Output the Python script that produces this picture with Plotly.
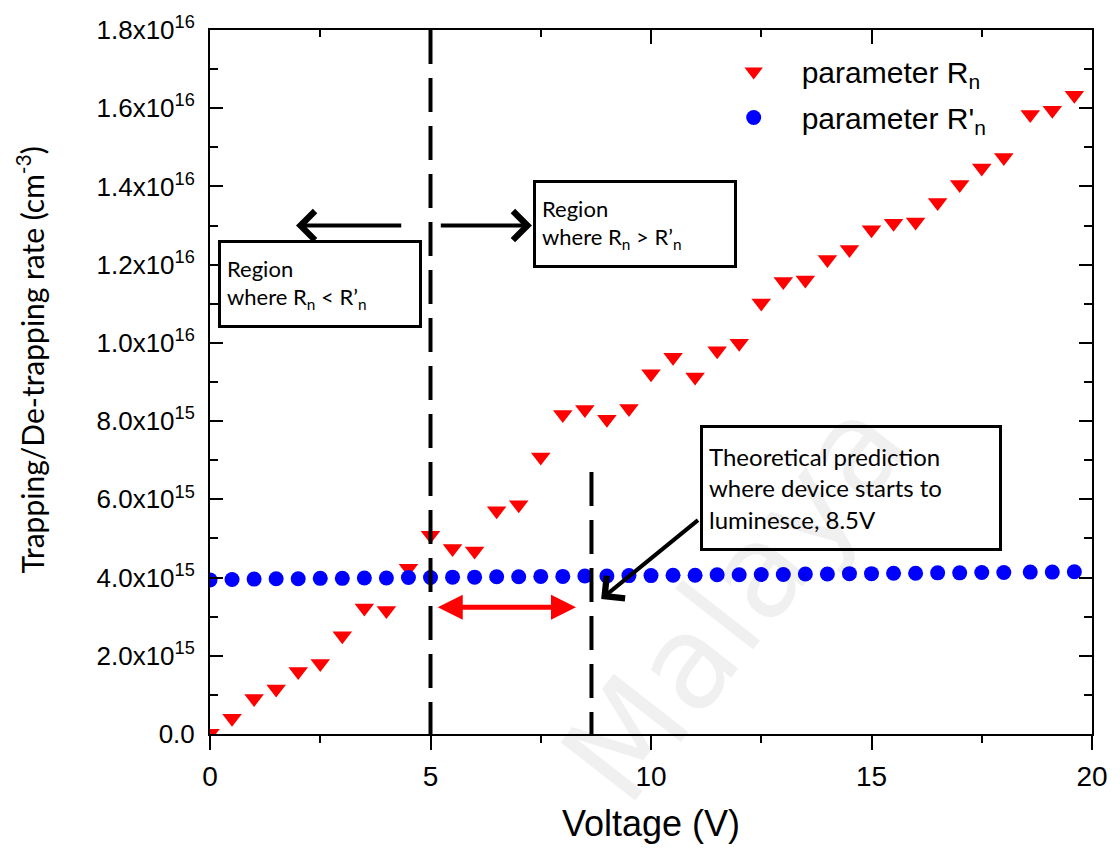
import plotly.graph_objects as go

# ---------------- data ----------------
voltage = [0, 0.5, 1, 1.5, 2, 2.5, 3, 3.5, 4, 4.5, 5, 5.5, 6, 6.5, 7, 7.5, 8, 8.5, 9, 9.5,
           10, 10.5, 11, 11.5, 12, 12.5, 13, 13.5, 14, 14.5, 15, 15.5, 16, 16.5, 17, 17.5,
           18, 18.6, 19.1, 19.6]
rn = [0.02, 0.40, 0.91, 1.15, 1.60, 1.80, 2.51, 3.22, 3.16, 4.24, 5.08, 4.74, 4.68, 5.71,
      5.86, 7.08, 8.17, 8.30, 8.05, 8.32, 9.21, 9.63, 9.13, 9.80, 9.99, 11.02, 11.57, 11.61,
      12.13, 12.39, 12.89, 13.06, 13.09, 13.59, 14.05, 14.47, 14.74, 15.84, 15.95, 16.33]
rn_prime = [3.94, 3.95, 3.96, 3.97, 3.97, 3.98, 3.98, 3.99, 3.99, 4.00, 4.00, 4.01, 4.01,
            4.02, 4.02, 4.03, 4.03, 4.04, 4.04, 4.05, 4.05, 4.06, 4.06, 4.07, 4.07, 4.08,
            4.08, 4.09, 4.09, 4.10, 4.10, 4.11, 4.11, 4.12, 4.12, 4.13, 4.13, 4.14, 4.14, 4.15]
scale = 1e15
rn_vals = [v * scale for v in rn]
rnp_vals = [v * scale for v in rn_prime]

y_tickvals = [0, 2e15, 4e15, 6e15, 8e15, 1e16, 1.2e16, 1.4e16, 1.6e16, 1.8e16]
y_ticktext = ["0.0", "2.0x10<sup>15</sup>", "4.0x10<sup>15</sup>", "6.0x10<sup>15</sup>",
              "8.0x10<sup>15</sup>", "1.0x10<sup>16</sup>", "1.2x10<sup>16</sup>",
              "1.4x10<sup>16</sup>", "1.6x10<sup>16</sup>", "1.8x10<sup>16</sup>"]
x_tickvals = [0, 5, 10, 15, 20]

# annotation geometry (data units)
crossover_v = 5
predicted_v = 8.65
predicted_top = 6.7e15
red_arrow = dict(x0=5.13, x1=8.3, y=3.24e15)
left_arrow = dict(tail=4.37, tip=1.95, y=13.0e15)
right_arrow = dict(tail=5.2, tip=7.3, y=13.0e15)
pred_arrow = dict(tail_x=11.1, tail_y=5.5e15, tip_x=8.87, tip_y=3.45e15)

AX_FONT = "Liberation Sans, Arial, sans-serif"
BOX_FONT = "Lato, Open Sans, sans-serif"

fig = go.Figure()
fig.add_trace(go.Scatter(
    x=voltage, y=rn_vals, mode="markers", name="parameter R<sub>n</sub>",
    legendgroup="a",
    marker=dict(symbol="triangle-down", size=17, color="#ff0000", line=dict(width=0)),
))
fig.add_trace(go.Scatter(
    x=voltage, y=rnp_vals, mode="markers", name="parameter R'<sub>n</sub>",
    legendgroup="b",
    marker=dict(symbol="circle", size=15, color="#0000ff", line=dict(width=0)),
))
# dummy trace for top axis
fig.add_trace(go.Scatter(x=[None], y=[None], xaxis="x2", showlegend=False, hoverinfo="skip"))

# dashed vertical lines
fig.add_shape(type="line", xref="x", yref="y", x0=crossover_v, x1=crossover_v,
              y0=1.8e16, y1=0, line=dict(color="black", width=4, dash="34px,14px"))
fig.add_shape(type="line", xref="x", yref="y", x0=predicted_v, x1=predicted_v,
              y0=predicted_top, y1=0, line=dict(color="black", width=4, dash="34px,14px"))

# watermark (drawn first so it stays under other annotations)
fig.add_annotation(x=0.595, y=0.19, xref="paper", yref="paper", text="Malaya", showarrow=False,
                   xanchor="center", yanchor="middle", textangle=-52,
                   font=dict(family="DejaVu Sans, sans-serif", size=130, color="rgba(0,0,0,0.06)"))

# arrows
fig.add_annotation(x=red_arrow["x1"], y=red_arrow["y"], ax=red_arrow["x0"], ay=red_arrow["y"],
                   xref="x", yref="y", axref="x", ayref="y", text="", showarrow=True,
                   arrowhead=2, startarrowhead=2, arrowside="end+start", arrowwidth=5,
                   arrowsize=1, startarrowsize=1, arrowcolor="#ff0000")
for arr in (left_arrow, right_arrow):
    fig.add_annotation(x=arr["tip"], y=arr["y"], ax=arr["tail"], ay=arr["y"],
                       xref="x", yref="y", axref="x", ayref="y", text="", showarrow=True,
                       arrowhead=4, arrowwidth=4, arrowsize=1.4, arrowcolor="black")
fig.add_annotation(x=pred_arrow["tip_x"], y=pred_arrow["tip_y"], ax=pred_arrow["tail_x"],
                   ay=pred_arrow["tail_y"], xref="x", yref="y", axref="x", ayref="y", text="",
                   showarrow=True, arrowhead=4, arrowwidth=4, arrowsize=1.4, arrowcolor="black")

# text boxes
box_font = dict(family=BOX_FONT, size=22, color="black")
fig.add_annotation(x=0.18, y=11.5e15, xref="x", yref="y", xanchor="left", yanchor="middle",
                   text="Region<br>where R<sub>n</sub> &lt; R’<sub>n</sub>", showarrow=False,
                   align="left", font=box_font, bordercolor="black", borderwidth=3,
                   borderpad=6, bgcolor="white", width=186, height=70)
fig.add_annotation(x=7.32, y=13.03e15, xref="x", yref="y", xanchor="left", yanchor="middle",
                   text="Region<br>where R<sub>n</sub> &gt; R’<sub>n</sub>", showarrow=False,
                   align="left", font=box_font, bordercolor="black", borderwidth=3,
                   borderpad=6, bgcolor="white", width=186, height=70)
fig.add_annotation(x=11.1, y=6.29e15, xref="x", yref="y", xanchor="left", yanchor="middle",
                   text="Theoretical prediction<br>where device starts to<br>luminesce, 8.5V",
                   showarrow=False, align="left", font=dict(family=BOX_FONT, size=24, color="black"),
                   bordercolor="black", borderwidth=3, borderpad=6, bgcolor="rgba(0,0,0,0)",
                   width=284, height=108)

# y-axis title
fig.add_annotation(x=-0.2038, y=0.531, xref="paper", yref="paper", xanchor="center",
                   yanchor="middle", textangle=-90, showarrow=False,
                   text="Trapping/De-trapping rate (cm<sup>-3</sup>)",
                   font=dict(family=BOX_FONT, size=30, color="black"))

fig.update_layout(
    width=1120, height=850,
    margin=dict(l=210, r=27, t=24, b=116),
    paper_bgcolor="white", plot_bgcolor="white",
    showlegend=True,
    legend=dict(x=0.562, y=0.978, xanchor="left", yanchor="top", bgcolor="rgba(0,0,0,0)",
                font=dict(family=AX_FONT, size=30, color="black"), tracegroupgap=4,
                itemsizing="trace", itemwidth=86),
    xaxis=dict(range=[0, 20], tickvals=x_tickvals, ticks="outside", ticklen=14, tickwidth=2,
               tickcolor="black", showline=True, linecolor="black", linewidth=2, mirror=True,
               showgrid=False, zeroline=False,
               minor=dict(dtick=2.5, ticks="outside", ticklen=7, tickwidth=2, tickcolor="black"),
               tickfont=dict(family=AX_FONT, size=28, color="black"), ticklabelstandoff=2,
               title=dict(text="Voltage (V)", font=dict(family=AX_FONT, size=36, color="black"),
                          standoff=20)),
    xaxis2=dict(range=[0, 20], overlaying="x", side="top", tickvals=x_tickvals, ticks="inside",
                ticklen=14, tickwidth=2, tickcolor="black", showticklabels=False,
                showline=False, showgrid=False, zeroline=False,
                minor=dict(dtick=2.5, ticks="inside", ticklen=7, tickwidth=2, tickcolor="black")),
    yaxis=dict(range=[0, 1.8e16], tickvals=y_tickvals, ticktext=y_ticktext, ticks="inside",
               ticklen=13, tickwidth=2, tickcolor="black", showline=True, linecolor="black",
               linewidth=2, mirror="ticks", showgrid=False, zeroline=False,
               minor=dict(dtick=1e15, ticks="inside", ticklen=8, tickwidth=2, tickcolor="black"),
               tickfont=dict(family=AX_FONT, size=26, color="black"), ticklabelstandoff=8),
)

fig.write_html("out.html")
